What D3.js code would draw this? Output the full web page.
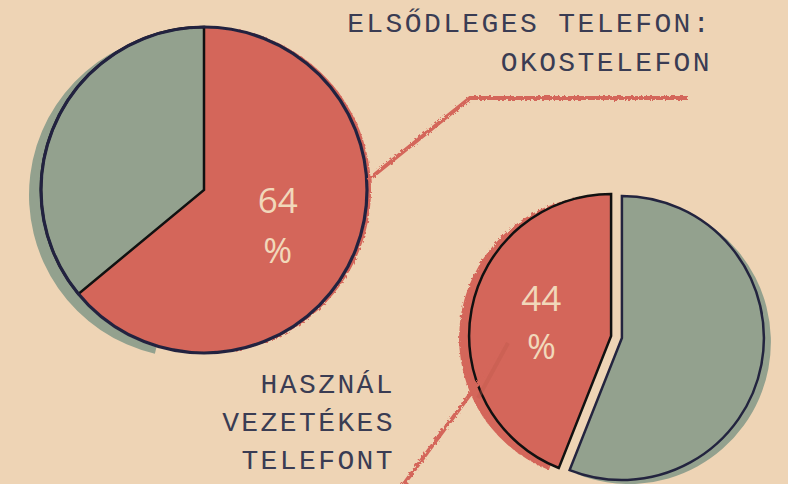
<!DOCTYPE html>
<html><head><meta charset="utf-8">
<script src="https://cdn.jsdelivr.net/npm/d3@7"></script>
<style>html,body{margin:0;padding:0;background:#eed4b5;}svg{display:block;}</style>
</head><body>
<script>
const categories = ["Okostelefon", "Egyéb"];
const smartphoneValues = [64, 36];
const landlineCategories = ["Vezetékes telefon", "Nincs"];
const landlineValues = [44, 56];
const titleLines = ["ELSŐDLEGES TELEFON:", "OKOSTELEFON"];
const landlineLines = ["HASZNÁL", "VEZETÉKES", "TELEFONT"];

const W = 788, H = 484;
const RED = "#d4665a", GREEN = "#93a18e", NAVY = "#23243f", BG = "#eed4b5", LABEL = "#f1d8ba";
const svg = d3.select("body").append("svg").attr("width", W).attr("height", H);
svg.append("rect").attr("width", W).attr("height", H).attr("fill", BG);

const defs = svg.append("defs");
const f = defs.append("filter").attr("id", "rough").attr("x", "-10%").attr("y", "-10%").attr("width", "120%").attr("height", "120%");
f.append("feTurbulence").attr("type", "fractalNoise").attr("baseFrequency", 0.35).attr("numOctaves", 2).attr("result", "n");
f.append("feDisplacementMap").attr("in", "SourceGraphic").attr("in2", "n").attr("scale", 4);
const fb = defs.append("filter").attr("id", "soft");
fb.append("feGaussianBlur").attr("stdDeviation", 0.6);

const color = d3.scaleOrdinal().range([RED, GREEN]);

// ---------- Left pie ----------
const c1 = {x: 204, y: 190}, r1 = 163;
const pie1 = d3.pie().sort(null).startAngle(0).endAngle(2 * Math.PI);
const arcs1 = pie1(smartphoneValues);
const arc1 = d3.arc().innerRadius(0).outerRadius(r1);
const g1 = svg.append("g").attr("transform", `translate(${c1.x},${c1.y})`);
// shadows
const shadowArc = Object.assign({}, arcs1[1], {startAngle: arcs1[1].startAngle - 0.65, endAngle: arcs1[1].endAngle + 0.02});
g1.append("path").attr("d", arc1(shadowArc)).attr("fill", GREEN).attr("transform", "translate(-12,5)");
g1.append("path").attr("d", arc1(arcs1[0])).attr("fill", RED).attr("transform", "translate(4,0)").attr("filter", "url(#rough)");
// leader line (top)
const leader1 = d3.line()([[368, 180], [470, 98], [688, 98]]);
svg.append("path").attr("d", leader1).attr("fill", "none").attr("stroke", RED).attr("stroke-width", 4).attr("filter", "url(#rough)");
// slices
g1.selectAll("path.slice").data(arcs1).join("path").attr("class", "slice")
  .attr("d", arc1).attr("fill", (d, i) => color(i))
  .attr("stroke", (d, i) => i === 1 ? "#111" : "none").attr("stroke-width", 2.5);
g1.append("circle").attr("r", r1).attr("fill", "none").attr("stroke", NAVY).attr("stroke-width", 3.2).attr("filter", "url(#soft)");
const lab1 = g1.append("text").attr("fill", LABEL).attr("font-family", "Open Sans").attr("font-size", 35).attr("text-anchor", "middle")
  .attr("transform", `translate(${arc1.centroid(arcs1[0])})`);
lab1.append("tspan").attr("x", 0).attr("y", -12).text(smartphoneValues[0]);
lab1.append("tspan").attr("x", 0).attr("y", 38).text("%");

// ---------- Right pie ----------
const c2 = {x: 616.5, y: 337}, r2 = 142, explode = 5.5;
const pie2 = d3.pie().sort(null).startAngle(0).endAngle(-2 * Math.PI);
const arcs2 = pie2(landlineValues);
const arc2 = d3.arc().innerRadius(0).outerRadius(r2);
const g2 = svg.append("g").attr("transform", `translate(${c2.x},${c2.y})`);
function off(d) { const a = (d.startAngle + d.endAngle) / 2; return [Math.sin(a) * explode, -Math.cos(a) * explode]; }
// leader line (bottom)
svg.append("path").attr("d", d3.line()([[508, 343], [398, 492]])).attr("fill", "none").attr("stroke", RED).attr("stroke-width", 4).attr("filter", "url(#rough)");
// shadows
g2.append("path").attr("d", arc2(arcs2[0])).attr("fill", RED)
  .attr("transform", () => { const o = off(arcs2[0]); return `translate(${o[0] - 10},${o[1] + 2})`; }).attr("filter", "url(#rough)");
g2.append("path").attr("d", arc2(arcs2[1])).attr("fill", GREEN)
  .attr("transform", () => { const o = off(arcs2[1]); return `translate(${o[0] + 7},${o[1] + 4})`; });
// slices
g2.selectAll("path.slice").data(arcs2).join("path").attr("class", "slice")
  .attr("d", arc2).attr("transform", d => `translate(${off(d)})`)
  .attr("fill", (d, i) => color(i)).attr("stroke", (d, i) => i === 0 ? "#111" : NAVY).attr("stroke-width", 2.5).attr("stroke-linejoin", "miter");
// faint leader inside
svg.append("path").attr("d", d3.line()([[508, 343], [478, 398]])).attr("fill", "none").attr("stroke", "#b85548").attr("stroke-width", 4).attr("opacity", 0.3);
const cen2 = arc2.centroid(arcs2[0]), o2 = off(arcs2[0]);
const lab2 = g2.append("text").attr("fill", LABEL).attr("font-family", "Open Sans").attr("font-size", 35).attr("text-anchor", "middle")
  .attr("transform", `translate(${cen2[0] + o2[0]},${cen2[1] + o2[1]})`);
lab2.append("tspan").attr("x", 0).attr("y", -12).text(landlineValues[0]);
lab2.append("tspan").attr("x", 0).attr("y", 36).text("%");

// ---------- Text labels ----------
const mono = "'Liberation Mono', 'Courier New', monospace";
svg.append("g").selectAll("text").data(titleLines).join("text")
  .attr("x", 712).attr("y", (d, i) => 32 + i * 39)
  .attr("text-anchor", "end").attr("font-family", mono).attr("font-size", 28).attr("letter-spacing", 2.4)
  .attr("fill", "#3a3c53").text(d => d);
svg.append("g").selectAll("text").data(landlineLines).join("text")
  .attr("x", 395).attr("y", (d, i) => 393 + i * 38)
  .attr("text-anchor", "end").attr("font-family", mono).attr("font-size", 28).attr("letter-spacing", 2.4)
  .attr("fill", "#3a3c53").text(d => d);
</script>
</body></html>
